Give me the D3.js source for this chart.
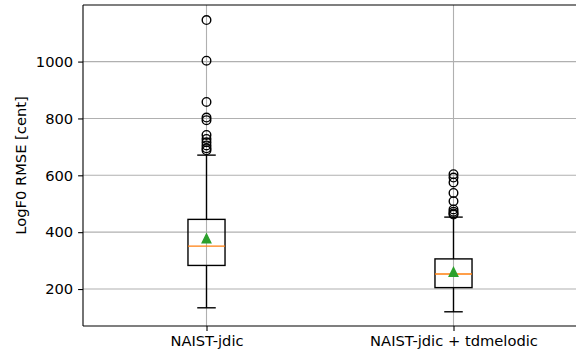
<!DOCTYPE html>
<html><head><meta charset="utf-8">
<script src="https://cdn.jsdelivr.net/npm/d3@7"></script>
<style>body{margin:0;background:#fff}svg{display:block}text{font-family:"DejaVu Sans",sans-serif}</style>
</head><body><svg id="c" width="576" height="356"></svg>
<script>
const categories = ["NAIST-jdic", "NAIST-jdic + tdmelodic"];
const q1 = [283, 205];
const medians = [351, 253];
const q3 = [445, 306];
const whiskerLow = [134, 120];
const whiskerHigh = [671, 453];
const means = [378, 260];
const outliers = [
  [1146, 1003, 858, 803, 794, 742, 728, 716, 705, 695, 688],
  [604, 592, 575, 538, 509, 480, 472, 466, 462]
];
const yTicks = [200, 400, 600, 800, 1000];
const yLabel = "LogF0 RMSE [cent]";

const svg = d3.select("#c");
const L = 83, R = 577, T = 5, B = 326;
const FS = 14.7;
const x = d3.scaleLinear().domain([0.5, 2.5]).range([L, R]);
const y = d3.scaleLinear().domain([70, 1199]).range([B, T]);
const lw = 1.39;
const boxW = x(1.15) - x(1);

// grid
const g = svg.append("g");
yTicks.forEach(t => g.append("line").attr("x1", L).attr("x2", R).attr("y1", y(t)).attr("y2", y(t))
  .attr("stroke", "#b0b0b0").attr("stroke-width", 1.1));
categories.forEach((c, i) => g.append("line").attr("x1", x(i + 1)).attr("x2", x(i + 1)).attr("y1", T).attr("y2", B)
  .attr("stroke", "#b0b0b0").attr("stroke-width", 1.1));

// boxes
categories.forEach((c, i) => {
  const cx = x(i + 1);
  const bg = svg.append("g").attr("fill", "none");
  bg.append("rect").attr("x", cx - boxW / 2).attr("y", y(q3[i])).attr("width", boxW).attr("height", y(q1[i]) - y(q3[i]))
    .attr("stroke", "#000").attr("stroke-width", lw);
  bg.append("line").attr("x1", cx).attr("x2", cx).attr("y1", y(q1[i])).attr("y2", y(whiskerLow[i])).attr("stroke", "#000").attr("stroke-width", lw);
  bg.append("line").attr("x1", cx).attr("x2", cx).attr("y1", y(q3[i])).attr("y2", y(whiskerHigh[i])).attr("stroke", "#000").attr("stroke-width", lw);
  [whiskerLow[i], whiskerHigh[i]].forEach(v => bg.append("line").attr("x1", cx - boxW / 4).attr("x2", cx + boxW / 4)
    .attr("y1", y(v)).attr("y2", y(v)).attr("stroke", "#000").attr("stroke-width", lw));
  bg.append("line").attr("x1", cx - boxW / 2).attr("x2", cx + boxW / 2).attr("y1", y(medians[i])).attr("y2", y(medians[i]))
    .attr("stroke", "#ff7f0e").attr("stroke-width", lw);
  outliers[i].forEach(v => bg.append("circle").attr("cx", cx).attr("cy", y(v)).attr("r", 4.3)
    .attr("stroke", "#000").attr("stroke-width", lw));
  const s = 4.3, my = y(means[i]);
  bg.append("path").attr("d", `M${cx},${my - s}L${cx - s},${my + s}L${cx + s},${my + s}Z`)
    .attr("fill", "#2ca02c").attr("stroke", "#2ca02c").attr("stroke-width", lw).attr("stroke-linejoin", "miter");
});

// axes
const yAxis = d3.axisLeft(y).tickValues(yTicks).tickSize(4.9).tickPadding(4.9).tickFormat(d3.format("d"));
const ya = svg.append("g").attr("transform", `translate(${L},0)`).call(yAxis);
const xAxis = d3.axisBottom(x).tickValues([1, 2]).tickSize(4.9).tickPadding(4.9).tickFormat(d => categories[d - 1]);
const xa = svg.append("g").attr("transform", `translate(0,${B})`).call(xAxis);
[ya, xa].forEach(a => {
  a.select(".domain").remove();
  a.selectAll("line").attr("stroke", "#000").attr("stroke-width", 1.1);
  a.selectAll("text").attr("font-size", FS).attr("fill", "#000").attr("font-family", "DejaVu Sans");
});
// spines
const sp = svg.append("g").attr("stroke", "#000").attr("stroke-width", 1.1).attr("fill", "none");
sp.append("line").attr("x1", L).attr("x2", L).attr("y1", T).attr("y2", B);
sp.append("line").attr("x1", L).attr("x2", R).attr("y1", T).attr("y2", T);
sp.append("line").attr("x1", L).attr("x2", R).attr("y1", B).attr("y2", B);
sp.append("line").attr("x1", R).attr("x2", R).attr("y1", T).attr("y2", B);

svg.append("text").attr("transform", `translate(26,${(T + B) / 2}) rotate(-90)`).attr("text-anchor", "middle")
  .attr("font-size", FS).attr("fill", "#000").text(yLabel);
</script></body></html>
